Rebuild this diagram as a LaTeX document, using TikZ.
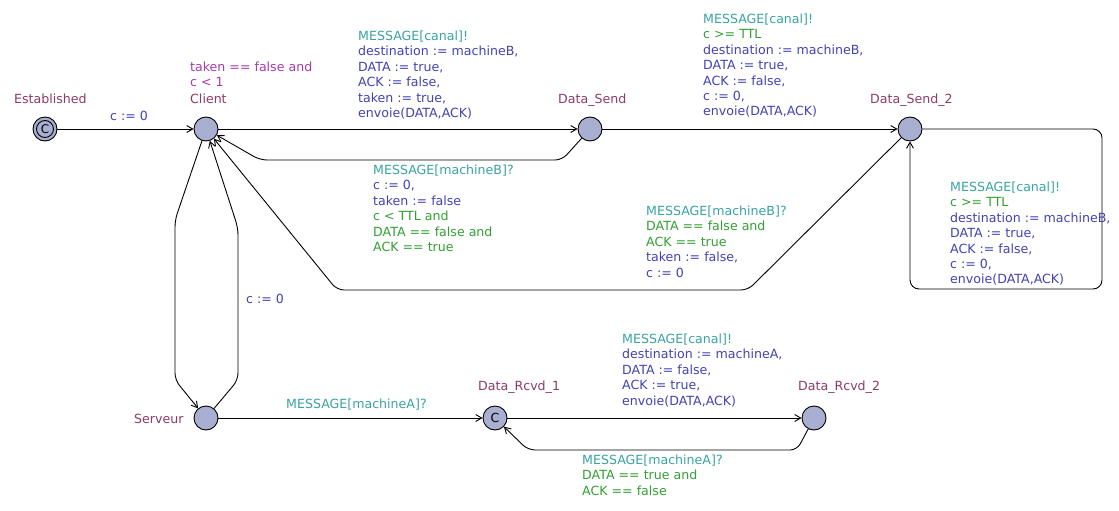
\documentclass[tikz,border=0pt]{standalone}
\usepackage{fontspec}
\setmainfont{DejaVu Sans}
\usetikzlibrary{arrows.meta}
\definecolor{locfill}{HTML}{A8AFD0}
\definecolor{locname}{HTML}{8E3A68}
\definecolor{invc}{HTML}{A53CA8}
\definecolor{syncc}{HTML}{3AA3A3}
\definecolor{assignc}{HTML}{4343B3}
\definecolor{guardc}{HTML}{33A033}
\newcommand\lblfont{\fontsize{12.6}{15.4}\selectfont}
\newcommand\Sy[1]{\textcolor{syncc}{#1}}
\newcommand\As[1]{\textcolor{assignc}{#1}}
\newcommand\Gu[1]{\textcolor{guardc}{#1}}
\newcommand\In[1]{\textcolor{invc}{#1}}
\begin{document}
\begin{tikzpicture}[x=1pt,y=-1pt,
  loc/.style={circle, draw=black, fill=locfill, minimum size=24pt, inner sep=0pt, line width=0.9pt},
  locname/.style={anchor=base west, inner sep=0pt, text=locname, font=\lblfont},
  lbl/.style={anchor=north west, inner sep=0pt, align=left, font=\lblfont},
  edge/.style={draw=black, line width=0.9pt, rounded corners=7pt, -{Straight Barb[length=6pt,width=7pt,line width=0.9pt]}}
]
\useasboundingbox (0,0) rectangle (1119,511);
\fill[white] (0,0) rectangle (1119,511);

% locations
\node[loc] (Est) at (45,129) {};
\draw[line width=0.9pt] (Est.center) circle (8.5pt);
\node[inner sep=0pt, font=\fontsize{12}{12}\selectfont] (EstC) at (45,129.5) {C};
\node[loc] (Client) at (206,129) {};
\node[loc] (DS) at (590,129) {};
\node[loc] (DS2) at (910,129) {};
\node[loc] (Serv) at (206,418) {};
\node[loc, font=\fontsize{12.5}{12.5}\selectfont] (DR1) at (495,418) {C};
\node[loc] (DR2) at (814,418) {};

% location names
\node[locname] (nEst) at (14,103.5) {Established};
\node[locname] (nClient) at (190,103.5) {Client};
\node[locname] (nDS) at (558,103.5) {Data\_Send};
\node[locname] (nDS2) at (870,103.5) {Data\_Send\_2};
\node[locname] (nServ) at (134,423.5) {Serveur};
\node[locname] (nDR1) at (478,390.5) {Data\_Rcvd\_1};
\node[locname] (nDR2) at (798,390.5) {Data\_Rcvd\_2};

% invariant
\node[lbl] (iClient) at (190,60.5) {\strut\In{taken == false and}\\\In{c < 1}};

% nails
\coordinate (a1) at (562,160);
\coordinate (a2) at (260,160);
\coordinate (b1) at (748,290);
\coordinate (b2) at (337,290);
\coordinate (s1) at (1102,129);
\coordinate (s2) at (1102,289);
\coordinate (s3) at (910,289);
\coordinate (l1) at (175,220);
\coordinate (l2) at (175,380);
\coordinate (r1) at (238,380);
\coordinate (r2) at (238,228);
\coordinate (d1) at (797,450);
\coordinate (d2) at (528,450);

% edges
\draw[edge] (Est) -- (Client);
\draw[edge] (Client) -- (DS);
\draw[edge] (DS) -- (a1) -- (a2) -- (Client);
\draw[edge] (DS) -- (DS2);
\draw[edge] (DS2) -- (b1) -- (b2) -- (Client);
\draw[edge, rounded corners=9pt] (DS2) -- (s1) -- (s2) -- (s3) -- (DS2);
\draw[edge] (Client) -- (l1) -- (l2) -- (Serv);
\draw[edge] (Serv) -- (r1) -- (r2) -- (Client);
\draw[edge] (Serv) -- (DR1);
\draw[edge] (DR1) -- (DR2);
\draw[edge] (DR2) -- (d1) -- (d2) -- (DR1);

% edge labels
\node[lbl] (k) at (110,109.5) {\strut\As{c := 0}};
\node[lbl] (eB) at (358,29.5) {\strut\Sy{MESSAGE[canal]!}\\\As{destination := machineB,}\\\As{DATA := true,}\\\As{ACK := false,}\\\As{taken := true,}\\\As{envoie(DATA,ACK)}};
\node[lbl] (eC) at (703,12.5) {\strut\Sy{MESSAGE[canal]!}\\\Gu{c >= TTL}\\\As{destination := machineB,}\\\As{DATA := true,}\\\As{ACK := false,}\\\As{c := 0,}\\\As{envoie(DATA,ACK)}};
\node[lbl] (eD) at (373,163.5) {\strut\Sy{MESSAGE[machineB]?}\\\As{c := 0,}\\\As{taken := false}\\\Gu{c < TTL and}\\\Gu{DATA == false and}\\\Gu{ACK == true}};
\node[lbl] (eE) at (646,204.5) {\strut\Sy{MESSAGE[machineB]?}\\\Gu{DATA == false and}\\\Gu{ACK == true}\\\As{taken := false,}\\\As{c := 0}};
\node[lbl] (eF) at (950,180.5) {\strut\Sy{MESSAGE[canal]!}\\\Gu{c >= TTL}\\\As{destination := machineB,}\\\As{DATA := true,}\\\As{ACK := false,}\\\As{c := 0,}\\\As{envoie(DATA,ACK)}};
\node[lbl] (eG) at (246,292.5) {\strut\As{c := 0}};
\node[lbl] (eH) at (286,397.5) {\strut\Sy{MESSAGE[machineA]?}};
\node[lbl] (eI) at (622,332.5) {\strut\Sy{MESSAGE[canal]!}\\\As{destination := machineA,}\\\As{DATA := false,}\\\As{ACK := true,}\\\As{envoie(DATA,ACK)}};
\node[lbl] (eJ) at (582,453.5) {\strut\Sy{MESSAGE[machineA]?}\\\Gu{DATA == true and}\\\Gu{ACK == false}};
\end{tikzpicture}
\end{document}
